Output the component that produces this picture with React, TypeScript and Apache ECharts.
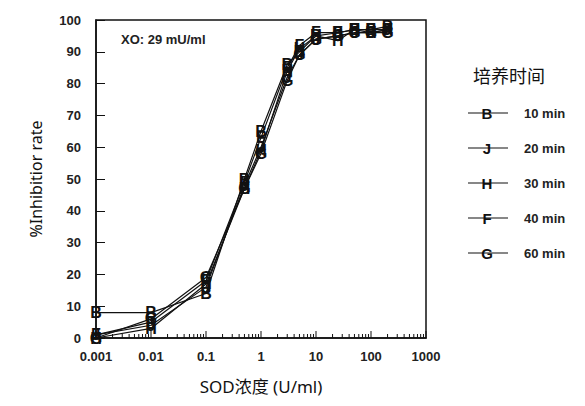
import React, { useEffect, useRef } from "react";
import * as echarts from "echarts";

const concentrations = [0.001, 0.01, 0.1, 0.5, 1, 3, 5, 10, 25, 50, 100, 200];
const seriesNames = ["10 min", "20 min", "30 min", "40 min", "60 min"];
const markerLetters = ["B", "J", "H", "F", "G"];
const min10 = [8, 8, 14, 50, 65, 86, 90, 95, 96, 97, 97, 98];
const min20 = [1, 4, 16, 48, 60, 82, 89, 94, 95, 96, 96, 97];
const min30 = [0, 3, 17, 47, 59, 84, 91, 95, 93.5, 97, 96, 97];
const min40 = [1, 5, 18, 49, 63, 85, 92, 96, 96, 97, 97, 97];
const min60 = [0, 6, 19, 47, 58, 81, 89, 94, 95, 96, 96, 96];
const allSeries = [min10, min20, min30, min40, min60];
const xMajorTicks = [0.001, 0.01, 0.1, 1, 10, 100, 1000];
const xMinorTicks: number[] = [];
[0.001, 0.01, 0.1, 1, 10, 100].forEach((d) => {
  [2, 3, 4, 5, 6, 7, 8, 9].forEach((m) => xMinorTicks.push(Number((d * m).toPrecision(6))));
});
const legendTitle = "培养时间";
const xTitle = "SOD浓度 (U/ml)";
const yTitle = "%Inhibitior rate";
const annotation = "XO: 29 mU/ml";

const FONT = "'Liberation Sans', Arial, sans-serif";

export default function App() {
  const ref = useRef<HTMLDivElement>(null);
  useEffect(() => {
    if (!ref.current) return;
    const chart = echarts.init(ref.current, null, { renderer: "svg" });
    const legendGraphics: any[] = [];
    legendGraphics.push({
      type: "text",
      left: 473,
      top: 66,
      style: { text: legendTitle, font: `normal 18px 'Noto Sans CJK SC', sans-serif`, fill: "#111" },
    });
    seriesNames.forEach((name, i) => {
      const y = 113 + i * 35;
      legendGraphics.push({
        type: "line",
        shape: { x1: 468, y1: y, x2: 508, y2: y },
        style: { stroke: "#111", lineWidth: 1.2 },
      });
      legendGraphics.push({
        type: "text",
        x: 487,
        y: y,
        style: {
          text: markerLetters[i],
          font: `bold 15px ${FONT}`,
          fill: "#111",
          align: "center",
          verticalAlign: "middle",
        },
      });
      legendGraphics.push({
        type: "text",
        x: 524,
        y: y,
        style: {
          text: name,
          font: `bold 13px ${FONT}`,
          fill: "#222",
          align: "left",
          verticalAlign: "middle",
        },
      });
    });

    const tickData = [
      ...xMajorTicks.map((v) => [v, 7]),
      ...xMinorTicks.map((v) => [v, 4]),
    ];

    chart.setOption({
      animation: false,
      backgroundColor: "#fff",
      color: ["#111"],
      grid: {
        left: 96,
        right: 159,
        top: 20,
        bottom: 68,
        show: true,
        borderColor: "#111",
        borderWidth: 1.5,
        backgroundColor: "transparent",
      },
      xAxis: {
        type: "log",
        logBase: 10,
        min: 0.001,
        max: 1000,
        name: xTitle,
        nameLocation: "middle",
        nameGap: 40,
        nameTextStyle: { fontFamily: `'Noto Sans', 'Noto Sans CJK SC', sans-serif`, fontSize: 17, color: "#111" },
        axisLine: { show: true, lineStyle: { color: "#111", width: 1.5 } },
        axisTick: { show: false },
        axisLabel: {
          show: true,
          margin: 12,
          fontFamily: FONT,
          fontWeight: "bold",
          fontSize: 13,
          color: "#222",
          formatter: (v: number) => String(Number(v.toPrecision(6))),
        },
        splitLine: { show: false },
      },
      yAxis: {
        type: "value",
        min: 0,
        max: 100,
        interval: 10,
        name: yTitle,
        nameLocation: "middle",
        nameGap: 52,
        nameRotate: 90,
        nameTextStyle: { fontFamily: `'Noto Sans', sans-serif`, fontSize: 16, color: "#111" },
        axisLine: { show: true, lineStyle: { color: "#111", width: 1.5 } },
        axisTick: { show: true, inside: true, length: 9, lineStyle: { color: "#111", width: 1 } },
        axisLabel: { margin: 15, fontFamily: FONT, fontWeight: "bold", fontSize: 13, color: "#222" },
        splitLine: { show: false },
      },
      graphic: [
        {
          type: "text",
          left: 121,
          top: 33,
          style: { text: annotation, font: `bold 13px ${FONT}`, fill: "#222" },
        },
        ...legendGraphics,
      ],
      series: [
        {
          type: "custom",
          data: tickData,
          silent: true,
          clip: false,
          z: 1,
          renderItem: (params: any, api: any) => {
            const p = api.coord([api.value(0), 0]);
            const len = api.value(1);
            return {
              type: "line",
              shape: { x1: p[0], y1: p[1], x2: p[0], y2: p[1] - len },
              style: { stroke: "#111", lineWidth: 1 },
            };
          },
        },
        ...allSeries.map((vals, i) => ({
          type: "line",
          name: seriesNames[i],
          data: concentrations.map((c, j) => [c, vals[j]]),
          symbol: "circle",
          symbolSize: 1,
          clip: false,
          lineStyle: { color: "#111", width: 1.2 },
          itemStyle: { color: "#111" },
          label: {
            show: true,
            position: "inside",
            formatter: markerLetters[i],
            fontFamily: FONT,
            fontWeight: "bold",
            fontSize: 16,
            color: "#111",
            textBorderWidth: 0,
            textBorderColor: "transparent",
          },
          z: 3,
        })),
      ],
    });
    return () => chart.dispose();
  }, []);
  return <div ref={ref} style={{ width: 585, height: 406, position: "absolute", left: 0, top: 0 }} />;
}
